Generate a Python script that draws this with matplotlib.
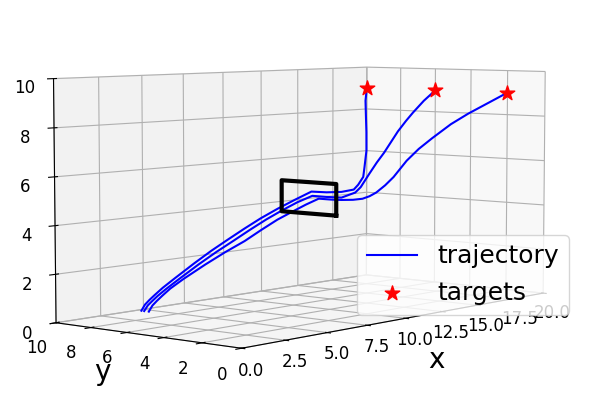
"""Three drone trajectories through a gate, 3D view."""

import matplotlib

matplotlib.use("Agg")
import matplotlib.pyplot as plt

# trajectories: start at x = 0, through the gate at x = 10, on to the targets
x1 = [0.0, 0.2, 0.45, 0.75, 1.2, 1.9, 3.0, 4.0, 5.0, 6.0, 7.0, 8.0, 9.0, 10.0, 11.0, 11.8, 12.6, 13.0, 13.3, 13.6, 14.0, 14.4, 15.0, 15.6, 16.3, 17.2, 18.0, 19.0, 20.0]
y1 = [4.8, 4.8, 4.8, 4.8, 4.8, 4.75, 4.6, 4.45, 4.3, 4.3, 4.3, 4.3, 4.45, 4.6, 4.75, 4.85, 4.85, 4.65, 4.5, 4.37, 4.2, 4.05, 3.8, 3.6, 3.4, 3.05, 2.7, 2.35, 2.0]
z1 = [0.95, 1.17, 1.33, 1.5, 1.74, 2.06, 2.55, 2.97, 3.35, 3.72, 4.07, 4.35, 4.55, 4.72, 4.6, 4.52, 4.47, 4.5, 4.6, 4.75, 5.05, 5.4, 6.1, 6.6, 7.05, 7.65, 8.1, 8.55, 9.0]

x2 = [0.0, 0.2, 0.45, 0.75, 1.2, 1.9, 3.0, 4.0, 5.0, 6.0, 7.0, 8.0, 9.0, 10.0, 11.0, 12.0, 13.0, 13.5, 14.3, 14.9, 15.5, 16.7, 17.4, 18.0, 19.0, 20.0]
y2 = [5.05, 5.05, 5.05, 5.05, 5.03, 5.0, 4.97, 4.93, 4.9, 4.9, 4.9, 4.9, 4.92, 4.95, 5.0, 5.0, 5.05, 5.15, 5.3, 5.37, 5.44, 5.6, 5.68, 5.75, 5.9, 6.0]
z2 = [0.95, 1.15, 1.3, 1.47, 1.7, 2.03, 2.52, 2.94, 3.32, 3.69, 4.04, 4.35, 4.62, 4.82, 4.7, 4.6, 4.75, 4.95, 5.5, 5.95, 6.35, 7.25, 7.7, 8.05, 8.55, 9.0]

x3 = [0.0, 0.2, 0.45, 0.75, 1.2, 1.9, 3.0, 4.0, 5.0, 6.0, 7.0, 8.0, 9.0, 10.0, 11.0, 12.0, 12.8, 13.3, 13.8, 14.4, 15.5, 16.8, 18.0, 19.0, 20.0]
y3 = [5.2, 5.2, 5.2, 5.2, 5.2, 5.2, 5.2, 5.2, 5.2, 5.2, 5.2, 5.15, 5.05, 5.0, 5.0, 5.0, 4.97, 5.13, 5.25, 5.66, 6.43, 7.47, 8.46, 9.28, 10.0]
z3 = [0.95, 1.17, 1.33, 1.5, 1.74, 2.06, 2.55, 2.97, 3.35, 3.72, 4.07, 4.4, 4.72, 5.0, 4.9, 4.85, 4.9, 5.07, 5.38, 5.76, 6.4, 7.14, 7.9, 8.45, 9.0]

# targets
target_x = [20.0, 20.0, 20.0]
target_y = [2.0, 6.0, 10.0]
target_z = [9.0, 9.0, 9.0]

# gate corners
gate_x = [10.0, 10.0, 10.0, 10.0, 10.0]
gate_y = [3.65, 6.65, 6.65, 3.65, 3.65]
gate_z = [4.05, 4.05, 5.4, 5.4, 4.05]

x_ticks = [0.0, 2.5, 5.0, 7.5, 10.0, 12.5, 15.0, 17.5, 20.0]

fig = plt.figure(figsize=(6, 4), dpi=100)
ax = fig.add_subplot(projection="3d", computed_zorder=False)
ax.set_position([6 / 600, 3 / 400, 1.0, 1.0])
ax.set_box_aspect((2, 1, 0.98), zoom=1.41)

ax.plot(x1, y1, z1, color="blue", label="trajectory", zorder=2)
ax.plot(x2, y2, z2, color="blue", zorder=2)
ax.plot(x3, y3, z3, color="blue", zorder=2)
ax.scatter(target_x, target_y, target_z, color="red", marker="*", s=120, label="targets", depthshade=False, zorder=3, clip_on=False)
ax.plot(gate_x, gate_y, gate_z, color="black", lw=3, zorder=4)

ax.set_xlim(0, 20)
ax.set_ylim(0, 10)
ax.set_zlim(0, 10)
ax.set_xticks(x_ticks)
ax.set_xlabel("x", fontsize=20, labelpad=2.5)
ax.set_ylabel("y", fontsize=20, labelpad=-3.5)
ax.tick_params(labelsize=12)
ax.tick_params(axis="x", pad=-1)
ax.tick_params(axis="y", pad=0)
ax.tick_params(axis="z", pad=0)
ax.view_init(elev=5, azim=-140)
ax.legend(
    fontsize=18,
    loc="lower right",
    bbox_to_anchor=(569 / 600, 1 - 315 / 400),
    bbox_transform=fig.transFigure,
    borderaxespad=0,
)

fig.savefig("out.png", dpi=100)
